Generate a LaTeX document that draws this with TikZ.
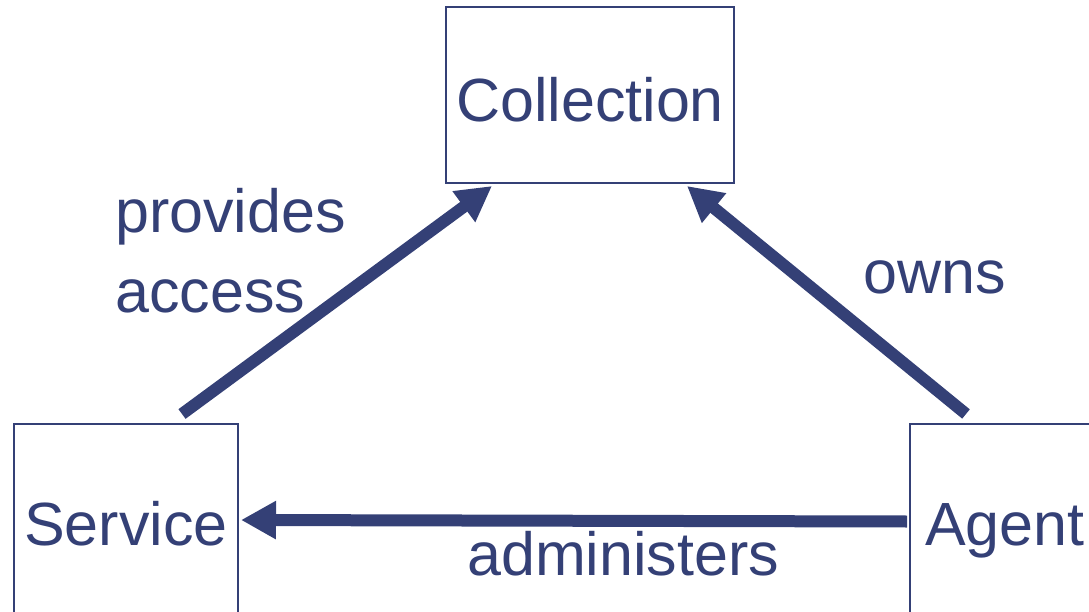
\documentclass[tikz,border=0pt]{standalone}
\usepackage{fontspec}
\setmainfont{Liberation Sans}
\usetikzlibrary{arrows.meta,calc}
\definecolor{navy}{RGB}{52,64,118}
\begin{document}
\begin{tikzpicture}[x=1pt,y=-1pt,
  box/.style={draw=navy,line width=2pt,fill=none,inner sep=0pt},
  lbl/.style={text=navy,inner sep=0pt,font=\fontsize{61}{70}\selectfont},
  arr/.style={draw=navy,line width=12pt,-{Triangle[length=35pt,width=36pt]}}]
\useasboundingbox (0,0) rectangle (1089,612);
\clip (0,0) rectangle (1089,612);
% boxes
\node[box,minimum width=288pt,minimum height=176pt] (coll) at (590,95) {};
\node[box,minimum width=224pt,minimum height=198pt] (svc) at (126,523) {};
\node[box,minimum width=224pt,minimum height=198pt] (agt) at (1022,523) {};
% box texts
\node[lbl,anchor=base] (colltxt) at (590,122) {Collection};
\node[lbl,anchor=base] (svctxt) at (126,545) {Service};
\node[lbl,anchor=base west] (agttxt) at (925,545) {Agent};
% connectors
\coordinate (pa1) at ($(svc.north west)+(169,-9)$);
\coordinate (pa2) at ($(coll.south west)+(47,2)$);
\coordinate (ow1) at ($(agt.north west)+(57,-9)$);
\coordinate (ow2) at ($(coll.south west)+(242,2)$);
\coordinate (ad1) at ($(agt.west)+(-2,-1.5)$);
\coordinate (ad2) at ($(svc.east)+(2,-3)$);
\draw[arr] (pa1) -- (pa2);
\draw[arr] (ow1) -- (ow2);
\draw[arr] (ad1) -- (ad2);
% connector labels
\node[lbl,anchor=base west] (prov) at (115,233) {provides};
\node[lbl,anchor=base west] (acc) at (115,312) {access};
\node[lbl,anchor=base west] (owns) at (863,293) {owns};
\node[lbl,anchor=base west] (adm) at (467,575) {administers};
\end{tikzpicture}
\end{document}
